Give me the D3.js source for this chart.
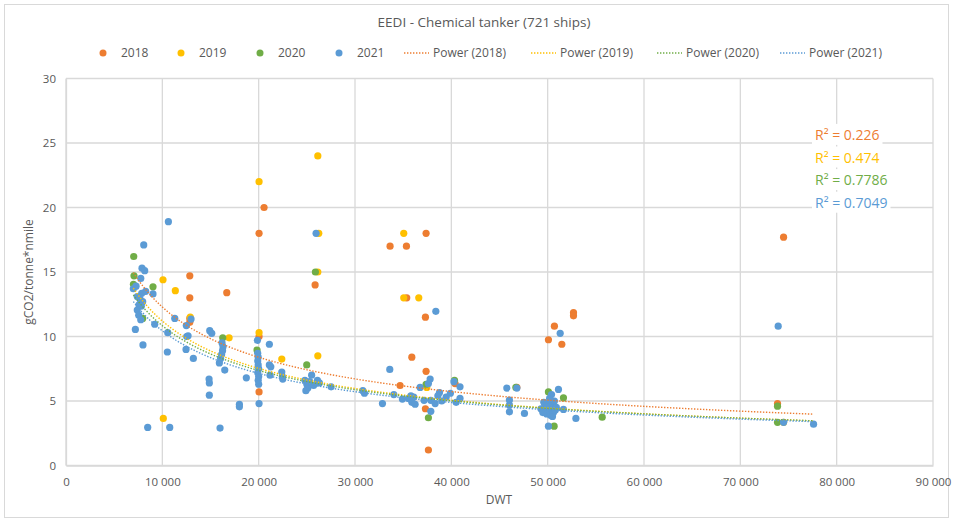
<!DOCTYPE html>
<html>
<head>
<meta charset="utf-8">
<script src="https://cdn.jsdelivr.net/npm/d3@7"></script>
<style>
  html, body { margin: 0; padding: 0; background: #fff; }
  svg { display: block; font-family: "Open Sans", "Noto Sans", sans-serif; }
</style>
</head>
<body>
<svg id="chart" width="953" height="522"></svg>
<script>
// EEDI values (gCO2/tonne*nmile) against deadweight tonnage, per reporting year
const years = ["2018", "2019", "2020", "2021"];
const colors = ["#ED7D31", "#FFC000", "#70AD47", "#5B9BD5"];

const ships2018 = [
  [20040,18.0],[20560,20.0],[20040,5.7],[12850,14.7],[12850,13.0],[16690,13.4],[12850,11.4],
  [12850,11.1],[20040,10.0],[25860,14.0],[33640,17.0],[35340,17.0],[37380,18.0],[35370,13.0],
  [37310,11.5],[35900,8.4],[34680,6.2],[37380,7.3],[37310,4.4],[37620,1.2],[40390,6.35],
  [52680,11.85],[52680,11.6],[50700,10.8],[50080,9.75],[51470,9.4],[46800,6.05],[74490,17.7],
  [73860,4.8]
];
const ships2019 = [
  [26140,24.0],[20040,22.0],[26240,18.0],[26140,15.0],[20040,10.3],[26140,8.5],[22400,8.25],
  [10070,14.4],[11350,13.55],[10100,3.65],[12900,11.5],[16930,9.9],[35060,18.0],[35060,13.0],
  [36620,13.0],[37450,6.05],[74490,3.35]
];
const ships2020 = [
  [7030,16.2],[7060,14.7],[7000,14.05],[9030,13.85],[7960,11.4],[16270,9.9],[19830,8.95],
  [24990,7.8],[25890,15.0],[37380,6.3],[37620,3.7],[40330,6.6],[50080,5.7],[51640,5.25],
  [50670,3.05],[55660,3.75],[73860,4.6],[73860,3.35],[46700,6.05],[50300,4.6]
];
const ships2021 = [
  [10630,18.9],[8070,17.1],[7890,15.3],[8170,15.1],[7760,14.5],[6990,13.7],[7270,13.9],
  [7860,13.35],[8270,13.5],[9030,13.3],[7400,13.1],[7680,12.9],[7960,12.7],[7580,12.45],
  [7820,12.35],[7400,12.05],[7550,11.65],[7760,11.3],[7200,10.55],[9210,10.95],[11290,11.4],
  [10560,10.3],[12490,10.85],[12530,10.0],[7990,9.35],[10520,8.8],[8480,2.95],[10770,2.95],
  [12980,11.35],[12670,10.05],[12460,9.0],[13220,8.3],
  [14920,10.45],[15130,10.25],[14850,6.7],[14880,6.4],[14880,5.45],[15990,2.9],
  [16200,9.5],[16300,9.2],[16250,8.9],[16150,8.6],[16050,8.3],[15920,7.95],[16480,7.4],
  [18000,4.75],[18000,4.55],[18720,6.8],
  [19870,9.7],[19900,8.7],[19950,8.4],[19900,8.1],[19950,7.8],[20000,7.5],[19900,7.2],
  [20000,6.9],[19950,6.6],[20000,6.3],[20040,4.8],
  [21110,9.4],[21110,7.8],[21260,7.65],[21180,7.0],
  [22400,7.25],[22460,6.9],[22500,6.7],
  [24800,6.6],[25000,6.3],[25100,6.0],[24900,5.8],[25300,6.5],[25700,6.2],[26100,6.6],
  [26300,6.4],[25500,7.0],[25960,18.0],
  [27520,6.1],[30810,5.8],[30980,5.6],[32850,4.8],[33610,7.45],[34030,5.5],[34920,5.15],
  [35550,5.2],[35900,4.9],[36240,4.75],[36100,5.3],[35800,5.4],
  [36760,6.05],[37620,6.35],[37800,6.7],[37170,5.05],[37870,5.05],[38320,4.8],[37870,4.2],
  [38390,11.95],[38770,5.65],[39460,5.3],[39900,5.6],[40270,6.5],[40900,6.1],[40900,5.2],
  [39000,5.0],[38600,5.4],[40500,4.9],
  [45760,6.0],[46800,6.0],[46030,5.07],[46030,4.68],[46030,4.16],[47590,4.04],
  [49300,4.4],[49500,4.1],[49700,4.6],[49800,4.3],[49900,4.0],[50000,4.8],[50100,4.5],
  [50200,4.2],[50300,3.9],[50400,4.4],[50500,4.7],[50600,4.1],[50700,5.0],[50800,4.3],
  [50900,4.5],[50200,5.2],[49600,4.9],[50400,5.5],[50500,3.8],
  [51120,5.9],[51640,4.35],[52930,3.65],[50080,3.05],[51300,10.25],
  [73930,10.8],[74490,3.35],[77600,3.2]
];
const shipsByYear = [ships2018, ships2019, ships2020, ships2021];

// Power trendlines y = a * x^b over the DWT range of the fleet
const trendA = [1947, 2194, 1832, 1625];
const trendB = [-0.550, -0.573, -0.557, -0.548];
const trendRange = [6990, 77600];
const rSquared = ["0.226", "0.474", "0.7786", "0.7049"];

const xTicks = [0, 10000, 20000, 30000, 40000, 50000, 60000, 70000, 80000, 90000];
const yTicks = [0, 5, 10, 15, 20, 25, 30];

const svg = d3.select("#chart");
const W = 953, H = 522;
const margin = { left: 66, right: 20, top: 78.5, bottom: 56.5 };
const plotL = 66, plotR = 933, plotT = 78.5, plotB = 465.5;

const x = d3.scaleLinear().domain([0, 90000]).range([plotL, plotR]);
const y = d3.scaleLinear().domain([0, 30]).range([plotB, plotT]);

const loc = d3.formatLocale({ decimal: ",", thousands: "\u00a0", grouping: [3], currency: ["", ""] });
const fmtX = loc.format(",d");

// chart frame
svg.append("rect").attr("x", 4.5).attr("y", 4.5).attr("width", W - 9).attr("height", H - 9)
  .attr("fill", "#fff").attr("stroke", "#d9d9d9").attr("stroke-width", 1);

// gridlines
const grid = svg.append("g").attr("stroke", "#d9d9d9").attr("stroke-width", 1.3);
grid.selectAll(".gy").data(yTicks).join("line")
  .attr("x1", plotL).attr("x2", plotR).attr("y1", d => y(d)).attr("y2", d => y(d));
grid.selectAll(".gx").data(xTicks).join("line")
  .attr("y1", plotT).attr("y2", plotB).attr("x1", d => x(d)).attr("x2", d => x(d));

// axes
const xAxis = svg.append("g").attr("transform", `translate(0,${plotB})`)
  .call(d3.axisBottom(x).tickValues(xTicks).tickFormat(fmtX).tickSize(0).tickPadding(12));
const yAxis = svg.append("g").attr("transform", `translate(${plotL},0)`)
  .call(d3.axisLeft(y).tickValues(yTicks).tickSize(0).tickPadding(10));
[xAxis, yAxis].forEach(a => {
  a.select(".domain").attr("stroke", "#d9d9d9").attr("stroke-width", 1.3);
  a.selectAll("text").attr("fill", "#595959").style("font-size", "11.5px")
    .style("font-family", "'Open Sans', sans-serif");
});

// axis titles
svg.append("text").attr("x", 499).attr("y", 504).attr("text-anchor", "middle")
  .attr("fill", "#595959").style("font-size", "12px").text("DWT");
svg.append("text").attr("transform", `translate(33,${(plotT + plotB) / 2}) rotate(-90)`)
  .attr("text-anchor", "middle").attr("fill", "#595959").style("font-size", "12px")
  .text("gCO2/tonne*nmile");

// title
svg.append("text").attr("x", 484).attr("y", 27).attr("text-anchor", "middle")
  .attr("fill", "#595959").style("font-size", "13.5px").text("EEDI - Chemical tanker (721 ships)");

// points, one layer per year
shipsByYear.forEach((pts, i) => {
  svg.append("g").selectAll("circle").data(pts).join("circle")
    .attr("cx", d => x(d[0])).attr("cy", d => y(d[1])).attr("r", 3.6)
    .attr("fill", colors[i]);
});

// trendlines
const trendXs = d3.range(0, 101).map(k => trendRange[0] * Math.pow(trendRange[1] / trendRange[0], k / 100));
const line = d3.line().x(d => x(d[0])).y(d => y(d[1]));
years.forEach((yr, i) => {
  const pts = trendXs.map(v => [v, trendA[i] * Math.pow(v, trendB[i])]);
  svg.append("path").attr("d", line(pts)).attr("fill", "none")
    .attr("stroke", colors[i]).attr("stroke-width", 1.4)
    .attr("stroke-dasharray", "1.4,1.6");
});

// R² labels
rSquared.forEach((r, i) => {
  const g = svg.append("g").attr("transform", `translate(815,${135 + i * 22.6})`);
  const t = g.append("text").attr("dy", "0.35em").attr("fill", colors[i])
    .style("font-size", "14px").text(`R\u00b2 = ${r}`);
  const bb = t.node().getBBox();
  g.insert("rect", "text").attr("x", bb.x - 3).attr("y", bb.y - 1)
    .attr("width", bb.width + 6).attr("height", bb.height + 2).attr("fill", "#fff");
});

// legend
const legend = svg.append("g").attr("transform", "translate(0,53)");
const dotX = [103, 181, 260, 339];
years.forEach((yr, i) => {
  legend.append("circle").attr("cx", dotX[i]).attr("cy", 0).attr("r", 3.5).attr("fill", colors[i]);
  legend.append("text").attr("x", dotX[i] + 18).attr("dy", "0.35em").attr("fill", "#595959")
    .style("font-size", "12px").text(yr);
});
const lineX = [404, 531, 657, 780];
years.forEach((yr, i) => {
  legend.append("line").attr("x1", lineX[i]).attr("x2", lineX[i] + 25).attr("y1", 0).attr("y2", 0)
    .attr("stroke", colors[i]).attr("stroke-width", 1.4).attr("stroke-dasharray", "1.4,1.6");
  legend.append("text").attr("x", lineX[i] + 29).attr("dy", "0.35em").attr("fill", "#595959")
    .style("font-size", "12px").text(`Power (${yr})`);
});
</script>
</body>
</html>
